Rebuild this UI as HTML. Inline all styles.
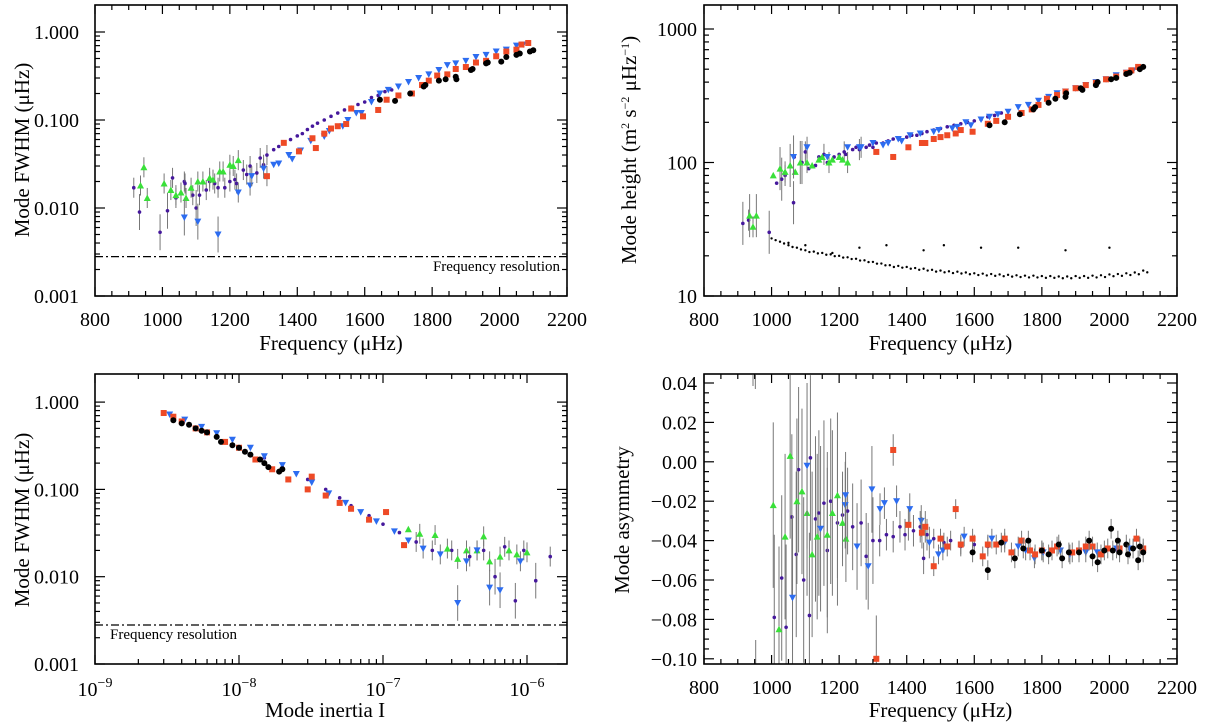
<!DOCTYPE html>
<html><head><meta charset="utf-8"><style>
html,body{margin:0;padding:0;background:#fff;}
svg{display:block;font-family:"Liberation Serif",serif;}
</style></head><body>
<svg id="fig" width="1205" height="722" viewBox="0 0 1205 722" xmlns="http://www.w3.org/2000/svg"></svg>
<script>
// ---------- Panel 1 data: FWHM vs frequency ----------
const p1BlackF=[1645,1690,1735,1775,1780,1820,1840,1870,1872,1915,1920,1960,1965,2005,2020,2050,2060,2090,2100];
const p1BlackV=[0.17,0.165,0.2,0.24,0.25,0.28,0.29,0.31,0.29,0.37,0.38,0.44,0.45,0.46,0.52,0.55,0.57,0.6,0.62];
const p1RedF=[1310,1360,1405,1445,1455,1480,1500,1520,1545,1560,1595,1640,1665,1700,1740,1770,1790,1815,1845,1870,1900,1930,1960,1990,2020,2050,2065,2085];
const p1RedV=[0.023,0.055,0.044,0.062,0.048,0.07,0.08,0.085,0.09,0.135,0.11,0.13,0.17,0.19,0.2,0.25,0.28,0.32,0.33,0.38,0.4,0.45,0.47,0.53,0.6,0.63,0.72,0.75];
const p1BlueF=[1065,1105,1165,1225,1260,1265,1300,1330,1345,1375,1385,1410,1440,1480,1495,1535,1550,1575,1590,1620,1645,1670,1700,1730,1760,1790,1820,1845,1870,1900,1930,1960,1990,2020,2050,2070];
const p1BlueV=[0.0078,0.007,0.005,0.015,0.018,0.023,0.028,0.031,0.032,0.04,0.036,0.045,0.058,0.065,0.075,0.085,0.1,0.12,0.12,0.16,0.2,0.22,0.24,0.27,0.3,0.33,0.37,0.42,0.44,0.47,0.52,0.55,0.6,0.63,0.7,0.72];
const p1PurpF=[915,932,993,1015,1030,1040,1065,1067,1090,1100,1110,1130,1140,1155,1165,1185,1200,1215,1220,1240,1250,1260,1280,1290,1300,1310,1330,1345,1360,1380,1400,1415,1430,1445,1460,1480,1500,1520,1540,1560,1580,1600,1620,1640,1660,1680];
const p1PurpV=[0.017,0.009,0.0053,0.0093,0.022,0.013,0.02,0.019,0.014,0.01,0.014,0.016,0.02,0.019,0.017,0.017,0.02,0.021,0.019,0.027,0.024,0.03,0.025,0.037,0.031,0.04,0.046,0.05,0.055,0.06,0.066,0.07,0.078,0.085,0.092,0.1,0.11,0.12,0.13,0.14,0.15,0.16,0.18,0.19,0.21,0.22];
const p1GreenF=[935,945,955,1005,1025,1040,1055,1070,1085,1105,1120,1140,1150,1170,1180,1200,1210,1225];
const p1GreenV=[0.018,0.029,0.013,0.019,0.016,0.014,0.015,0.013,0.017,0.02,0.02,0.022,0.021,0.026,0.026,0.031,0.03,0.035];
const p1Ticks=[800,1000,1200,1400,1600,1800,2000,2200];
const p1YTickLabels=["0.001","0.010","0.100","1.000"];
const freqRes=0.0028;

// ---------- Panel 2 data: height vs frequency ----------
const p2BlackV=[190,200,230,250,260,280,300,310,330,360,350,380,400,420,430,460,470,500,520];
const p2RedV=[120,110,130,140,140,150,155,160,165,175,170,195,205,220,235,250,270,300,320,340,360,380,395,420,440,470,490,520];
const p2BlueV=[110,130,110,130,130,130,140,135,140,150,145,160,165,170,175,180,185,200,190,210,220,230,240,260,270,290,310,330,340,360,380,400,420,450,470,490];
const p2PurpV=[35,37,30,70,75,80,50,110,100,120,90,95,110,115,100,110,115,120,115,125,130,125,130,135,130,140,140,145,150,150,155,160,160,165,170,175,180,185,190,195,200,205,210,220,225,235];
const p2GreenV=[40,33,40,80,90,85,95,85,100,100,95,105,110,100,105,110,105,100];
const p2NoiseF=[1000,1025,1050,1075,1100,1125,1150,1175,1200,1225,1250,1275,1300,1325,1350,1375,1400,1425,1450,1475,1500,1525,1550,1575,1600,1625,1650,1675,1700,1725,1750,1775,1800,1825,1850,1875,1900,1925,1950,1975,2000,2025,2050,2075,2100];
const p2NoiseV=[27,25.5,24,23,22,21.5,21,20.5,20,19.5,19,18.5,18,17.5,17,16.8,16.5,16.2,16,15.7,15.5,15.3,15.2,15,14.8,14.7,14.6,14.5,14.4,14.3,14.2,14.2,14.1,14.1,14,14,14.1,14.1,14.2,14.3,14.5,14.6,14.8,15,15.5];
const p2OutF=[1050,1100,1180,1260,1340,1450,1510,1620,1730,1870,2000];
const p2OutV=[25,24,21,23,24,22,24,23,23,22,23];
const p2YTickLabels=["10","100","1000"];

// ---------- Panel 3 data: FWHM vs inertia ----------
const p3RedI=[3e-9,3.5e-9,4e-9,5e-9,6e-9,8e-9,1e-8,1.3e-8,1.7e-8,2.2e-8,3e-8,3.2e-8,4e-8,5e-8,6e-8,8e-8,1.05e-7,1.4e-7];
const p3RedV=[0.75,0.68,0.6,0.5,0.45,0.35,0.3,0.22,0.17,0.13,0.1,0.14,0.085,0.07,0.06,0.045,0.055,0.023];
const p3BlackI=[3.5e-9,4e-9,4.5e-9,5e-9,5.5e-9,6e-9,7e-9,7.5e-9,9e-9,1e-8,1.1e-8,1.2e-8,1.4e-8,1.5e-8,1.6e-8,1.9e-8,2e-8];
const p3BlackV=[0.62,0.57,0.55,0.5,0.47,0.45,0.4,0.35,0.32,0.3,0.27,0.25,0.22,0.2,0.18,0.16,0.17];
const p3BlueI=[3.3e-9,4.2e-9,5.5e-9,7e-9,9e-9,1.2e-8,1.5e-8,2e-8,2.5e-8,3.2e-8,4.2e-8,5.5e-8,7e-8,9e-8,1.2e-7,1.5e-7,1.9e-7,2.5e-7,3.3e-7,3.8e-7,4.5e-7,5.5e-7,6.5e-7,9e-7];
const p3BlueV=[0.72,0.63,0.52,0.44,0.37,0.3,0.24,0.19,0.15,0.12,0.09,0.07,0.055,0.043,0.033,0.026,0.021,0.018,0.005,0.015,0.02,0.0075,0.007,0.015];
const p3PurpI=[1e-8,1.5e-8,2e-8,3e-8,4e-8,5e-8,6e-8,8e-8,1e-7,1.3e-7,1.7e-7,2.2e-7,3e-7,4e-7,5e-7,6e-7,7e-7,8.3e-7,9.5e-7,1.15e-6,1.45e-6];
const p3PurpV=[0.3,0.23,0.18,0.13,0.1,0.08,0.065,0.05,0.04,0.032,0.025,0.02,0.02,0.017,0.02,0.01,0.022,0.0053,0.02,0.009,0.017];
const p3GreenI=[1.5e-7,1.8e-7,2.3e-7,2.8e-7,3.3e-7,3.8e-7,4.5e-7,5e-7,5.5e-7,6.5e-7,7.5e-7,8.5e-7,1e-6];
const p3GreenV=[0.035,0.031,0.03,0.021,0.016,0.02,0.02,0.029,0.015,0.017,0.02,0.018,0.019];
const p3XTickExp=[-9,-8,-7,-6];

// ---------- Panel 4 data: asymmetry vs frequency ----------
const p4BlackF=[1595,1640,1680,1720,1745,1760,1800,1820,1850,1860,1880,1910,1940,1950,1965,1985,2005,2010,2025,2030,2050,2055,2070,2085,2090,2100];
const p4BlackV=[-0.046,-0.055,-0.041,-0.049,-0.044,-0.040,-0.045,-0.047,-0.042,-0.049,-0.046,-0.046,-0.040,-0.048,-0.051,-0.045,-0.034,-0.045,-0.040,-0.046,-0.042,-0.047,-0.044,-0.050,-0.043,-0.046];
const p4RedF=[1310,1360,1405,1445,1455,1480,1500,1520,1545,1560,1595,1625,1640,1665,1690,1710,1740,1765,1780,1800,1830,1845,1890,1910,1930,1950,1975,1995,2030,2080,2100];
const p4RedV=[-0.1,0.006,-0.032,-0.036,-0.033,-0.053,-0.039,-0.043,-0.024,-0.042,-0.039,-0.048,-0.042,-0.042,-0.039,-0.046,-0.040,-0.045,-0.047,-0.045,-0.045,-0.043,-0.046,-0.045,-0.043,-0.043,-0.047,-0.044,-0.044,-0.039,-0.044];
const p4BlueF=[1062,1105,1145,1218,1219,1253,1286,1297,1321,1334,1370,1409,1443,1467,1494,1507,1570,1652,1690,1730,1752,1778,1804,1855,1883,1930,1964,2021,2060];
const p4BlueV=[-0.069,-0.002,-0.034,-0.022,-0.017,-0.043,-0.053,-0.014,-0.024,-0.021,-0.020,-0.024,-0.030,-0.041,-0.047,-0.045,-0.038,-0.039,-0.041,-0.043,-0.045,-0.049,-0.046,-0.045,-0.047,-0.046,-0.046,-0.044,-0.044];
const p4PurpF=[1008,1030,1043,1060,1073,1080,1095,1112,1115,1130,1140,1155,1165,1175,1195,1210,1225,1240,1265,1280,1300,1320,1340,1360,1380,1395,1420,1440,1450,1460,1480,1510,1530,1560,1600,1640];
const p4PurpV=[-0.079,-0.059,-0.084,-0.028,-0.047,-0.004,-0.060,-0.078,0.002,-0.029,-0.026,-0.021,-0.045,-0.020,-0.031,-0.027,-0.025,-0.033,-0.031,-0.048,-0.040,-0.040,-0.037,-0.038,-0.033,-0.037,-0.035,-0.033,-0.049,-0.037,-0.039,-0.041,-0.040,-0.043,-0.042,-0.043];
const p4GreenF=[1005,1022,1040,1055,1075,1090,1105,1120,1135,1165,1180,1195,1210,1220];
const p4GreenV=[-0.022,-0.085,-0.038,0.003,-0.020,-0.015,-0.026,-0.047,-0.038,-0.037,-0.026,-0.017,-0.031,-0.039];
const p4YTicks=[0.04,0.02,0.00,-0.02,-0.04,-0.06,-0.08,-0.10];

const NS="http://www.w3.org/2000/svg";
const svg=document.getElementById('fig');
function mk(tag,attrs,parent){const e=document.createElementNS(NS,tag);for(const k in attrs)e.setAttribute(k,attrs[k]);(parent||svg).appendChild(e);return e;}
const COL={black:'#000',red:'#ee4a26',blue:'#2c6cf0',purp:'#45189c',green:'#39e039'};

function linX(x0,x1,v0,v1){return v=>x0+(v-v0)/(v1-v0)*(x1-x0);}
function logY(yb,decadePx,vb){return v=>yb-decadePx*(Math.log10(v)-Math.log10(vb));}
const fx1=linX(95,567,800,2200);
const fy1=logY(296,88,0.001);
const fx2=linX(704,1177,800,2200);
const fy2=logY(296,133.5,10);
const fx3=v=>95+144*(Math.log10(v)+9);
const fy3=logY(664,87.3,0.001);
const fy4=v=>383+(0.04-v)/0.02*39.4;

function marker(g,type,x,y){
  let e;
  if(type==='black'){e=mk('circle',{cx:x,cy:y,r:3,fill:COL.black},g);}
  else if(type==='red'){e=mk('rect',{x:x-3,y:y-3,width:6,height:6,fill:COL.red},g);}
  else if(type==='blue'){e=mk('polygon',{points:`${x-3.5},${y-3} ${x+3.5},${y-3} ${x},${y+3.5}`,fill:COL.blue},g);}
  else if(type==='green'){e=mk('polygon',{points:`${x-3.5},${y+3} ${x+3.5},${y+3} ${x},${y-3.5}`,fill:COL.green},g);}
  else {e=mk('circle',{cx:x,cy:y,r:1.8,fill:COL.purp},g);}
  
  
}
function errbar(g,x,y1,y2){const l=mk('line',{x1:x,x2:x,y1:y1,y2:y2,stroke:'#777','stroke-width':1},g);
  }

function frame(name,x0,y0,x1,y1){
  const r=mk('rect',{x:x0,y:y0,width:x1-x0,height:y1-y0,fill:'none',stroke:'#000','stroke-width':1.6});
  
}
function tickH(x,y,len){mk('line',{x1:x,x2:x,y1:y,y2:y+len,stroke:'#000','stroke-width':1.2});}
function tickV(x,y,len){mk('line',{x1:x,x2:x+len,y1:y,y2:y,stroke:'#000','stroke-width':1.2});}
function text(str,x,y,opts){const t=mk('text',Object.assign({x:x,y:y,'font-size':20,'text-anchor':'middle',fill:'#000'},opts||{}));t.textContent=str;return t;}

function freqXAxis(fx,x0,x1,yt,yb,labelY,titleY,name){
  for(let f=800;f<=2200;f+=50){const major=f%200===0;const L=major?9:5;tickH(fx(f),yb,-L);tickH(fx(f),yt,L);}
  p1Ticks.forEach(f=>{const t=text(String(f),fx(f),labelY);});
  const ti=text('Frequency (μHz)',(x0+x1)/2,titleY,{'font-size':21});
  
}
function logYAxis(fy,x0,x1,dec0,dec1,labels,name,labelX){
  for(let d=dec0;d<dec1;d++){for(let m=1;m<10;m++){const v=m*Math.pow(10,d);const y=fy(v);if(y<4)continue;const L=m===1?10:5;tickV(x0,y,L);tickV(x1,y,-L);}}
  const yt=fy(Math.pow(10,dec1));tickV(x0,yt,10);tickV(x1,yt,-10);
  labels.forEach((lab,i)=>{const t=text(lab,labelX,fy(Math.pow(10,dec0+i))+7,{'text-anchor':'end'});});
}
function yTitle(str,x,y,name){const t=text(str,x,y,{'font-size':21,transform:`rotate(-90 ${x} ${y})`});return t;}

// ---------------- Panel 1 ----------------
(function(){
  const g=mk('g',{});
  frame('panel1',95,5,567,296);
  freqXAxis(fx1,95,567,5,296,326,350,'panel1');
  logYAxis(fy1,95,567,-3,0,p1YTickLabels,'panel1',79);
  yTitle('Mode FWHM (μHz)',29,150,'panel1');
  const dl=mk('line',{x1:95,x2:567,y1:fy1(freqRes),y2:fy1(freqRes),stroke:'#000','stroke-width':1.2,'stroke-dasharray':'8,3,2,3'});
  
  const lt=text('Frequency resolution',560,271,{'text-anchor':'end','font-size':15});
  
  const sets=[['purp',p1PurpF,p1PurpV],['green',p1GreenF,p1GreenV],['blue',p1BlueF,p1BlueV],['red',p1RedF,p1RedV],['black',p1BlackF,p1BlackV]];
  sets.forEach(([t,F,V])=>F.forEach((f,i)=>{const x=fx1(f),y=fy1(V[i]);
    if(f<1320){const e=V[i]<0.012?1.6:1.3;errbar(g,x,fy1(V[i]*e),fy1(V[i]/e));}
    marker(g,t,x,y);}));
})();

// ---------------- Panel 2 ----------------
(function(){
  const g=mk('g',{});
  frame('panel2',704,5,1177,296);
  freqXAxis(fx2,704,1177,5,296,326,350,'panel2');
  logYAxis(fy2,704,1177,1,3,p2YTickLabels,'panel2',697);
  const t=yTitle('',636,150,'panel2');
  t.innerHTML='Mode height (m<tspan font-size="12" dy="-7">2</tspan><tspan dy="7"> s</tspan><tspan font-size="12" dy="-7">−2</tspan><tspan dy="7"> μHz</tspan><tspan font-size="12" dy="-7">−1</tspan><tspan dy="7">)</tspan>';
  p2NoiseF.forEach((f,i)=>{const c=mk('circle',{cx:fx2(f),cy:fy2(p2NoiseV[i]),r:1.2,fill:'#000'},g);
    const c2=mk('circle',{cx:fx2(f+12),cy:fy2(p2NoiseV[i]*0.97),r:1.2,fill:'#000'},g);});
  p2OutF.forEach((f,i)=>{const c=mk('circle',{cx:fx2(f),cy:fy2(p2OutV[i]),r:1.2,fill:'#000'},g);});
  const sets=[['purp',p1PurpF,p2PurpV],['green',p1GreenF,p2GreenV],['blue',p1BlueF,p2BlueV],['red',p1RedF,p2RedV],['black',p1BlackF,p2BlackV]];
  sets.forEach(([t,F,V])=>F.forEach((f,i)=>{const x=fx2(f),y=fy2(V[i]);
    if(f<1110 && (i%2===0)){errbar(g,x,fy2(V[i]*1.45),fy2(V[i]/1.45));}
    else if(f<1300 && i%4===1){errbar(g,x,fy2(V[i]*1.2),fy2(V[i]/1.2));}
    marker(g,t,x,y);}));
})();

// ---------------- Panel 3 ----------------
(function(){
  const g=mk('g',{});
  frame('panel3',95,374,567,664);
  for(let d=-9;d<=-6;d++){for(let m=1;m<10;m++){const v=m*Math.pow(10,d);const x=fx3(v);if(x>567)continue;const L=m===1?9:5;tickH(x,664,-L);tickH(x,374,L);}}
  p3XTickExp.forEach(e=>{const t=text('',fx3(Math.pow(10,e)),696);t.innerHTML='10<tspan font-size="14" dy="-9">'+String(e).replace('-','−')+'</tspan>';});
  const ti=text('Mode inertia I',325,717,{'font-size':21});
  logYAxis(fy3,95,567,-3,0,p1YTickLabels,'panel3',79);
  yTitle('Mode FWHM (μHz)',29,520,'panel3');
  const dl=mk('line',{x1:95,x2:567,y1:fy3(freqRes),y2:fy3(freqRes),stroke:'#000','stroke-width':1.2,'stroke-dasharray':'8,3,2,3'});
  
  const lt=text('Frequency resolution',110,639,{'text-anchor':'start','font-size':15});
  
  const sets=[['purp',p3PurpI,p3PurpV],['green',p3GreenI,p3GreenV],['blue',p3BlueI,p3BlueV],['red',p3RedI,p3RedV],['black',p3BlackI,p3BlackV]];
  sets.forEach(([t,F,V])=>F.forEach((f,i)=>{const x=fx3(f),y=fy3(V[i]);
    if(f>1.5e-7){const e=V[i]<0.012?1.6:1.3;errbar(g,x,fy3(V[i]*e),fy3(V[i]/e));}
    marker(g,t,x,y);}));
})();

// ---------------- Panel 4 ----------------
(function(){
  const g=mk('g',{});
  frame('panel4',704,374,1177,664);
  freqXAxis(fx2,704,1177,374,664,694,717,'panel4');
  for(let a=-0.10;a<=0.0401;a+=0.005){const y=fy4(a);if(y<374||y>664)continue;const major=Math.abs(Math.round(a*1000))%20===0;const L=major?10:5;tickV(704,y,L);tickV(1177,y,-L);}
  p4YTicks.forEach(v=>{const s=(v<0?'−':'')+Math.abs(v).toFixed(2);const t=text(s,697,fy4(v)+7,{'text-anchor':'end'});});
  yTitle('Mode asymmetry',629,520,'panel4');
  g.appendChild(mk('line',{x1:fx2(945),x2:fx2(945),y1:375,y2:386,stroke:'#777'}));
  g.appendChild(mk('line',{x1:fx2(952),x2:fx2(952),y1:375,y2:389,stroke:'#777'}));
  g.appendChild(mk('line',{x1:fx2(953),x2:fx2(953),y1:640,y2:664,stroke:'#777'}));
  const sets=[['purp',p4PurpF,p4PurpV],['green',p4GreenF,p4GreenV],['blue',p4BlueF,p4BlueV],['red',p4RedF,p4RedV],['black',p4BlackF,p4BlackV]];
  sets.forEach(([t,F,V])=>F.forEach((f,i)=>{const x=fx2(f),y=fy4(V[i]);
    const e=f<1200?0.042:(f<1320?0.022:(f<1480?0.008:0.005));
    errbar(g,x,Math.max(375,fy4(V[i]+e)),Math.min(664,fy4(V[i]-e)));
    marker(g,t,x,y);}));
})();
</script>
</body></html>
